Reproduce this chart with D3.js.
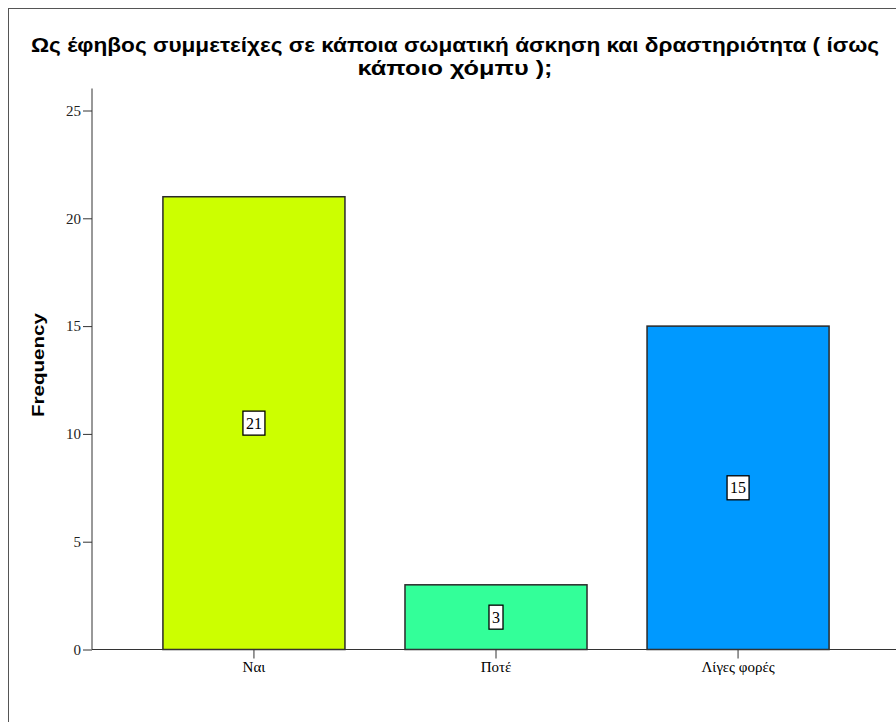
<!DOCTYPE html>
<html><head><meta charset="utf-8">
<script src="https://cdn.jsdelivr.net/npm/d3@7"></script>
<style>body{margin:0;background:#fff;} svg{display:block;}</style>
</head><body>
<svg id="chart" width="896" height="722"></svg>
<script>
const titleLines = ["Ως έφηβος συμμετείχες σε κάποια σωματική άσκηση και δραστηριότητα ( ίσως", "κάποιο χόμπυ );"];
const titleWidths = [848, 195];
const categories = ["Ναι", "Ποτέ", "Λίγες φορές"];
const values = [21, 3, 15];
const colors = ["#ccff00", "#33ff99", "#0099ff"];
const yTicks = [0, 5, 10, 15, 20, 25];
const yLabel = "Frequency";

const svg = d3.select("#chart");
// outer frame
svg.append("rect").attr("x", 8.5).attr("y", 8.5).attr("width", 900).attr("height", 730)
  .attr("fill", "none").attr("stroke", "#555").attr("stroke-width", 1);

// title
svg.append("g").selectAll("text").data(titleLines).join("text")
  .attr("x", 455).attr("y", (d, i) => 52 + i * 23)
  .attr("text-anchor", "middle")
  .attr("font-family", "Liberation Sans, Arial, sans-serif")
  .attr("font-weight", "bold").attr("font-size", 20).attr("fill", "#000")
  .attr("textLength", (d, i) => titleWidths[i]).attr("lengthAdjust", "spacingAndGlyphs")
  .text(d => d);

const y = d3.scaleLinear().domain([0, 25]).range([649.5, 110.5]);
const x = d3.scaleBand().domain(categories).range([92, 900]).paddingInner(0.248).paddingOuter(0.293);

// y axis
const yAxis = svg.append("g").attr("transform", "translate(92,0)")
  .call(d3.axisLeft(y).tickValues(yTicks).tickSize(9).tickPadding(2));
yAxis.select(".domain").attr("d", `M0,${y(0)}V${y(25) - 22}`).attr("stroke", "#333");
yAxis.selectAll(".tick line").attr("stroke", "#333");
yAxis.selectAll(".tick text").attr("font-family", "Liberation Serif, Times New Roman, serif")
  .attr("font-size", 15).attr("fill", "#222");

// bars
svg.append("g").selectAll("rect").data(values).join("rect")
  .attr("x", (d, i) => x(categories[i]))
  .attr("y", d => y(d))
  .attr("width", x.bandwidth())
  .attr("height", d => y(0) - y(d))
  .attr("fill", (d, i) => colors[i])
  .attr("stroke", "#2a2a2a").attr("stroke-width", 1.5);

// x axis
const xAxis = svg.append("g").attr("transform", `translate(0,${y(0)})`)
  .call(d3.axisBottom(x).tickSize(9).tickPadding(2));
xAxis.select(".domain").attr("d", `M92,0H900`).attr("stroke", "#333");
xAxis.selectAll(".tick line").attr("stroke", "#333");
xAxis.selectAll(".tick text").attr("font-family", "Liberation Serif, Times New Roman, serif")
  .attr("font-size", 15).attr("fill", "#000").attr("y", 22).attr("dy", 0);

// value labels
const lab = svg.append("g").selectAll("g").data(values).join("g")
  .attr("transform", (d, i) => `translate(${x(categories[i]) + x.bandwidth() / 2},${y(d / 2)})`);
lab.append("text").attr("text-anchor", "middle").attr("dy", "0.35em")
  .attr("font-family", "Liberation Serif, Times New Roman, serif").attr("font-size", 16).attr("fill", "#000")
  .text(d => d)
  .each(function () {
    const b = this.getBBox();
    d3.select(this.parentNode).insert("rect", "text")
      .attr("x", b.x - 3).attr("y", -12).attr("width", b.width + 6).attr("height", 24)
      .attr("fill", "#fff").attr("stroke", "#000").attr("stroke-width", 1.3);
  });

// y label
svg.append("text").attr("transform", "translate(44,365) rotate(-90)")
  .attr("text-anchor", "middle").attr("font-family", "Liberation Sans, Arial, sans-serif")
  .attr("font-weight", "bold").attr("font-size", 17).attr("fill", "#000")
  .attr("textLength", 104).attr("lengthAdjust", "spacingAndGlyphs").text(yLabel);
</script>
</body></html>
